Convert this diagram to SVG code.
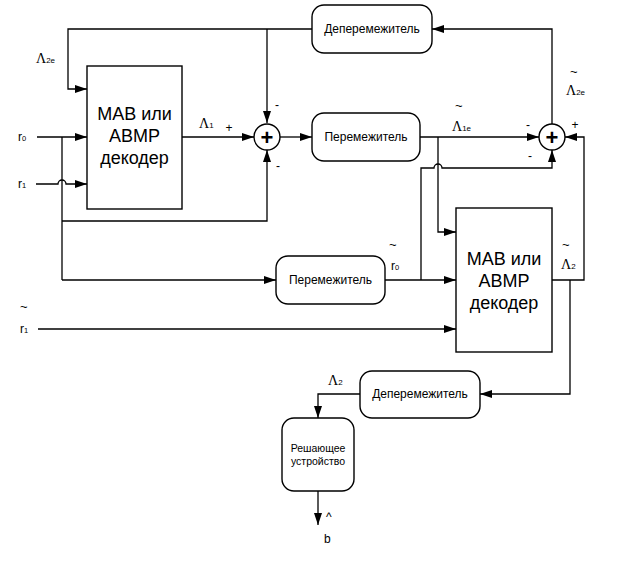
<svg xmlns="http://www.w3.org/2000/svg" width="619" height="574" viewBox="0 0 619 574">
<style>
.box{fill:#fff;stroke:#000;stroke-width:1.4}
.w{fill:none;stroke:#000;stroke-width:1.3}
.a{marker-end:url(#ah)}
.big{font-family:"Liberation Sans",Arial,sans-serif;font-size:18px;text-anchor:middle;fill:#000}
.mid{font-family:"Liberation Sans",Arial,sans-serif;font-size:12px;text-anchor:middle;fill:#000}
.sm{font-family:"Liberation Sans",Arial,sans-serif;font-size:10.5px;text-anchor:middle;fill:#000}
.lam{font-family:"Liberation Serif","Times New Roman",serif;font-size:14px;fill:#000}
.sub{font-family:"Liberation Sans",Arial,sans-serif;font-size:8px}
.lbl{font-family:"Liberation Sans",Arial,sans-serif;font-size:12px;fill:#000}
.til{font-family:"Liberation Sans",Arial,sans-serif;font-size:13px;fill:#000}
.sign{font-family:"Liberation Sans",Arial,sans-serif;font-size:12px;fill:#000;text-anchor:middle}
.plus{font-family:"Liberation Sans",Arial,sans-serif;font-size:22px;font-weight:bold;text-anchor:middle;fill:#000}
</style>
<defs>
<marker id="ah" markerUnits="userSpaceOnUse" markerWidth="12" markerHeight="8" refX="12" refY="4" orient="auto">
<path d="M0,0 L12,4 L0,8 z" fill="#000"/>
</marker>
</defs>
<g id="connectors">
<path class="w a" d="M312,29 H68 V89 H87"/>
<path class="w a" d="M267,29 V123"/>
<path class="w a" d="M37,137 H87"/>
<path class="w" d="M62,137 V280"/>
<path class="w a" d="M62,280 H276"/>
<path class="w a" d="M62,221 H267 V150"/>
<path class="w a" d="M36,184 H58 A4,4 0 0 1 66,184 H87"/>
<path class="w a" d="M182,137 H254"/>
<path class="w a" d="M280,137 H312"/>
<path class="w a" d="M420,137 H539"/>
<path class="w a" d="M438,137 V232 H456"/>
<path class="w a" d="M385,280 H456"/>
<path class="w a" d="M421,280 V168 H434 A4,4 0 0 1 442,168 H552 V150"/>
<path class="w a" d="M38,329 H456"/>
<path class="w a" d="M552,280 H584 V137 H565"/>
<path class="w a" d="M570,280 V394 H480"/>
<path class="w a" d="M552,124 V29 H432"/>
<path class="w a" d="M360,394 H318 V418"/>
<path class="w a" d="M318,491 V525"/>
</g>
<g id="decoder1">
<rect class="box" x="87" y="66" width="95" height="143"/>
<text class="big" x="134.5" y="120">МАВ или</text>
<text class="big" x="134.5" y="142">АВМР</text>
<text class="big" x="134.5" y="164">декодер</text>
</g>
<g id="decoder2">
<rect class="box" x="456" y="208" width="96" height="144"/>
<text class="big" x="504" y="265">МАВ или</text>
<text class="big" x="504" y="287">АВМР</text>
<text class="big" x="504" y="309">декодер</text>
</g>
<g id="adder1">
<circle class="box" cx="267" cy="137" r="13"/>
<text class="plus" x="267" y="145">+</text>
</g>
<g id="adder2">
<circle class="box" cx="552" cy="137" r="13"/>
<text class="plus" x="552" y="145">+</text>
</g>
<g id="deinterleaver1">
<rect class="box" x="312" y="5" width="120" height="48" rx="12"/>
<text class="mid" x="372" y="33">Деперемежитель</text>
</g>
<g id="interleaver1">
<rect class="box" x="312" y="113" width="108" height="48" rx="12"/>
<text class="mid" x="366" y="141">Перемежитель</text>
</g>
<g id="interleaver2">
<rect class="box" x="276" y="256" width="109" height="48" rx="12"/>
<text class="mid" x="330.5" y="284">Перемежитель</text>
</g>
<g id="deinterleaver2">
<rect class="box" x="360" y="371" width="120" height="47" rx="12"/>
<text class="mid" x="420" y="398">Деперемежитель</text>
</g>
<g id="decision">
<rect class="box" x="282" y="418" width="72" height="73" rx="12"/>
<text class="sm" x="318" y="452">Решающее</text>
<text class="sm" x="318" y="465">устройство</text>
</g>
<g id="labels">
<text class="lam" x="36" y="63">Λ<tspan class="sub">2e</tspan></text>
<text class="lam" x="199" y="128">Λ<tspan class="sub">1</tspan></text>
<text class="sign" x="229" y="132">+</text>
<text class="sign" x="277" y="109">-</text>
<text class="sign" x="278" y="170">-</text>
<text class="til" x="455" y="110">~</text>
<text class="lam" x="452" y="131">Λ<tspan class="sub">1e</tspan></text>
<text class="til" x="570" y="76">~</text>
<text class="lam" x="566" y="95">Λ<tspan class="sub">2e</tspan></text>
<text class="sign" x="528" y="129">-</text>
<text class="sign" x="575" y="129">+</text>
<text class="sign" x="530" y="160">-</text>
<text class="lbl" x="18" y="141">r<tspan font-size="7.5">0</tspan></text>
<text class="lbl" x="18" y="188">r<tspan font-size="7.5">1</tspan></text>
<text class="til" x="389" y="249">~</text>
<text class="lbl" x="391" y="270">r<tspan font-size="7.5">0</tspan></text>
<text class="til" x="562" y="249">~</text>
<text class="lam" x="561" y="269">Λ<tspan class="sub">2</tspan></text>
<text class="til" x="20" y="311">~</text>
<text class="lbl" x="20" y="333">r<tspan font-size="7.5">1</tspan></text>
<text class="lam" x="328" y="385">Λ<tspan class="sub">2</tspan></text>
<text class="lbl" x="326" y="521">^</text>
<text class="lbl" x="324" y="543" font-size="16">b</text>
</g>
</svg>
